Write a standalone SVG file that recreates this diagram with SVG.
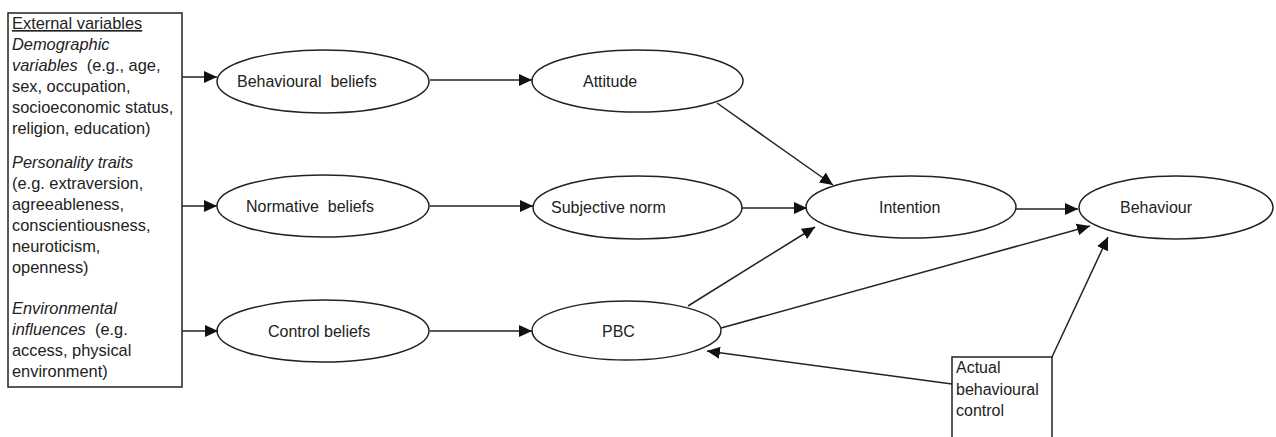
<svg xmlns="http://www.w3.org/2000/svg" width="1276" height="437" viewBox="0 0 1276 437">
<defs>
<style>
text{font-family:"Liberation Sans",Arial,sans-serif;font-size:16px;fill:#222}
#external text{font-size:16.4px}
.i{font-style:italic}
.n{fill:#fff;stroke:#222;stroke-width:1.5}
.c{stroke:#222;stroke-width:1.5;fill:none;marker-end:url(#ah)}
</style>
<marker id="ah" markerUnits="userSpaceOnUse" markerWidth="14" markerHeight="12" refX="13" refY="6" orient="auto">
<path d="M0,0 L13,6 L0,12 z" fill="#111"/>
</marker>
</defs>
<rect width="1276" height="437" fill="#fff"/>
<g id="external">
<rect class="n" x="8" y="13" width="174" height="374"/>
<text x="12" y="29" text-decoration="underline">External variables</text>
<text x="12" y="50" class="i">Demographic</text>
<text x="12" y="71" xml:space="preserve"><tspan class="i">variables</tspan>  (e.g., age,</text>
<text x="12" y="92">sex, occupation,</text>
<text x="12" y="113">socioeconomic status,</text>
<text x="12" y="134">religion, education)</text>
<text x="12" y="168" class="i">Personality traits</text>
<text x="12" y="189">(e.g. extraversion,</text>
<text x="12" y="210">agreeableness,</text>
<text x="12" y="231">conscientiousness,</text>
<text x="12" y="252">neuroticism,</text>
<text x="12" y="273">openness)</text>
<text x="12" y="314" class="i">Environmental</text>
<text x="12" y="335" xml:space="preserve"><tspan class="i">influences</tspan>  (e.g.</text>
<text x="12" y="356">access, physical</text>
<text x="12" y="377">environment)</text>
</g>
<g id="behavioural-beliefs">
<ellipse class="n" cx="323" cy="81.5" rx="106" ry="31.5"/>
<text x="237" y="87" xml:space="preserve">Behavioural  beliefs</text>
</g>
<g id="normative-beliefs">
<ellipse class="n" cx="323" cy="206" rx="106" ry="31"/>
<text x="246" y="212" xml:space="preserve">Normative  beliefs</text>
</g>
<g id="control-beliefs">
<ellipse class="n" cx="323" cy="331" rx="106" ry="31"/>
<text x="268" y="337">Control beliefs</text>
</g>
<g id="attitude">
<ellipse class="n" cx="637.5" cy="81" rx="105.5" ry="31"/>
<text x="583" y="87">Attitude</text>
</g>
<g id="subjective-norm">
<ellipse class="n" cx="637.5" cy="207.5" rx="104.5" ry="31.5"/>
<text x="551" y="213">Subjective norm</text>
</g>
<g id="pbc">
<ellipse class="n" cx="626.5" cy="330.5" rx="94.5" ry="29.5"/>
<text x="602" y="337">PBC</text>
</g>
<g id="intention">
<ellipse class="n" cx="911" cy="207" rx="105" ry="31"/>
<text x="879" y="213">Intention</text>
</g>
<g id="behaviour">
<ellipse class="n" cx="1176" cy="207.5" rx="97" ry="31.5"/>
<text x="1120" y="213">Behaviour</text>
</g>
<g id="actual-control">
<rect class="n" x="952" y="357" width="100" height="95"/>
<text x="956" y="373">Actual</text>
<text x="956" y="395">behavioural</text>
<text x="956" y="416">control</text>
</g>
<g id="connectors">
<line class="c" x1="182" y1="77" x2="217" y2="77"/>
<line class="c" x1="182" y1="206" x2="217" y2="206"/>
<line class="c" x1="182" y1="331" x2="218" y2="331"/>
<line class="c" x1="430" y1="80" x2="532" y2="80"/>
<line class="c" x1="430" y1="206" x2="533" y2="206"/>
<line class="c" x1="430" y1="331" x2="532" y2="331"/>
<line class="c" x1="717" y1="103" x2="833" y2="185"/>
<line class="c" x1="742" y1="208" x2="807" y2="208"/>
<line class="c" x1="688" y1="306" x2="815" y2="227"/>
<line class="c" x1="1016" y1="209" x2="1078" y2="209"/>
<line class="c" x1="721" y1="328" x2="1090" y2="226"/>
<line class="c" x1="1052" y1="357" x2="1108" y2="237"/>
<line class="c" x1="952" y1="384" x2="707" y2="351"/>
</g>
</svg>
